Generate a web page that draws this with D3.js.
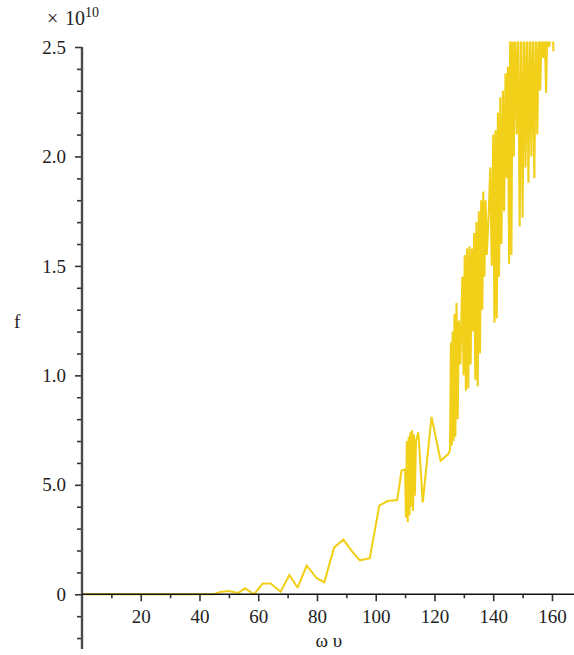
<!DOCTYPE html>
<html>
<head>
<meta charset="utf-8">
<script src="https://cdn.jsdelivr.net/npm/d3@7"></script>
<style>
  html, body { margin: 0; padding: 0; background: #fff; }
  svg { display: block; }
</style>
</head>
<body>
<svg id="chart" width="574" height="655"></svg>
<script>
// ---- data (f in units of 1e10) ----
const omega = [
  0, 10, 20, 30, 40, 45, 47, 49.8, 53.2, 55.5, 58.6, 61.5, 64.2, 67.6, 70.6, 73.4, 76.5, 79.9, 82.5,
  85.8, 89, 92.1, 94.6, 98, 101.2, 104, 107.3, 108.8, 110,
  110.3, 110.6, 110.9, 111.2, 111.5, 111.8, 112.1, 112.4, 112.7, 113.0, 113.3, 113.7,
  114.5, 116, 119, 122.1, 124.7,
  125.3, 125.6, 125.9, 126.2, 126.5, 126.8, 127.1, 127.5, 127.9, 128.3,
  128.8, 129.5, 129.9, 130.3, 130.7, 131.1, 131.5, 131.9, 132.3, 132.7, 133.1,
  133.5, 133.9, 134.3, 134.7, 135.1, 135.5, 135.9, 136.3, 136.6, 137.0, 137.4, 137.8,
  138.5, 139.0, 139.5, 140.0, 140.4, 140.8, 141.2, 141.6, 142.0, 142.4, 142.8,
  143.3, 143.7, 144.2, 144.6, 145.0, 145.4, 145.8, 146.2, 146.6, 147.0, 147.5, 148.0,
  148.5, 149.0, 149.5, 150.0, 150.5, 151.0, 151.5, 152.0, 152.5, 153.0, 153.5, 154.0,
  154.5, 155.0, 155.5, 156.0, 156.5, 157.0, 157.5, 158.0, 158.4, 159.0, 160.3, 160.5
];
const fValues = [
  0, 0, 0, 0, 0, 0, 0.01, 0.015, 0.006, 0.027, 0, 0.049, 0.049, 0.012, 0.088, 0.03, 0.131, 0.073, 0.055,
  0.213, 0.25, 0.193, 0.155, 0.165, 0.405, 0.426, 0.43, 0.565, 0.57,
  0.35, 0.70, 0.33, 0.72, 0.36, 0.74, 0.40, 0.75, 0.38, 0.73, 0.45, 0.70,
  0.74, 0.42, 0.81, 0.61, 0.64,
  0.66, 1.15, 0.68, 1.20, 0.70, 1.28, 0.72, 1.33, 0.80, 1.25,
  1.05, 1.45, 1.0, 1.55, 0.93, 1.58, 0.94, 1.59, 1.05, 1.58, 1.2,
  1.65, 0.98, 1.70, 0.95, 1.75, 1.10, 1.80, 1.30, 1.84, 1.45, 1.80, 1.55,
  1.75, 1.95, 1.5, 2.10, 1.24, 2.12, 1.26, 2.20, 1.45, 2.27, 1.60,
  2.30, 1.75, 2.38, 1.9, 2.41, 1.51, 2.60, 1.55, 2.60, 2.0, 2.60, 2.1,
  2.60, 1.68, 2.60, 1.72, 2.60, 1.95, 2.60, 1.88, 2.60, 2.0, 2.60, 1.9,
  2.60, 2.1, 2.60, 2.3, 2.60, 2.45, 2.60, 2.29, 2.60, 2.5, 2.60, 2.48
];
const yTickValues = [0, 0.5, 1.0, 1.5, 2.0, 2.5];
const yTickLabels = ["0", "5.0", "1.0", "1.5", "2.0", "2.5"];
const xTickValues = [20, 40, 60, 80, 100, 120, 140, 160];
const xTickLabels = ["20", "40", "60", "80", "100", "120", "140", "160"];

const FONT = "'Liberation Serif', 'Times New Roman', Times, serif";

// ---- scales ----
const svg = d3.select("#chart");
const x = d3.scaleLinear().domain([0, 167.5]).range([82, 574]);
const y = d3.scaleLinear().domain([-0.25, 2.5]).range([649, 47]);

const pts = omega.map((w, i) => [w, fValues[i]]);

svg.append("defs").append("clipPath").attr("id", "clip")
  .append("rect")
  .attr("x", x(0)).attr("y", y(2.525))
  .attr("width", x(167.5) - x(0)).attr("height", y(-0.25) - y(2.525));

const line = d3.line().x(d => x(d[0])).y(d => y(d[1]));

svg.append("path")
  .datum(pts)
  .attr("clip-path", "url(#clip)")
  .attr("d", line)
  .attr("fill", "none")
  .attr("stroke", "#f2d01a")
  .attr("stroke-width", 2.1)
  .attr("stroke-linejoin", "miter")
  .attr("stroke-miterlimit", 2);

// ---- axes ----
const yMinor = d3.range(-2, 26).map(d => d / 10).filter(v => !yTickValues.some(t => Math.abs(t - v) < 1e-9));
const xMinor = d3.range(10, 170, 20);

const yAxisMinor = svg.append("g").attr("transform", `translate(${x(0)},0)`)
  .call(d3.axisLeft(y).tickValues(yMinor).tickSize(5).tickSizeOuter(0).tickFormat(""));
yAxisMinor.select(".domain").remove();
const yAxisMajor = svg.append("g").attr("transform", `translate(${x(0)},0)`)
  .call(d3.axisLeft(y).tickValues(yTickValues).tickSize(7).tickSizeOuter(0)
    .tickFormat((d, i) => yTickLabels[i]).tickPadding(9));
yAxisMajor.select(".domain").remove();
svg.append("line")
  .attr("x1", x(0)).attr("x2", x(0))
  .attr("y1", y(2.5)).attr("y2", y(-0.25))
  .attr("stroke", "#4a4a4a").attr("stroke-width", 2.4);

const xAxisMinor = svg.append("g").attr("transform", `translate(0,${y(0)})`)
  .call(d3.axisBottom(x).tickValues(xMinor).tickSize(4).tickSizeOuter(0).tickFormat(""));
xAxisMinor.select(".domain").remove();
const xAxisMajor = svg.append("g").attr("transform", `translate(0,${y(0)})`)
  .call(d3.axisBottom(x).tickValues(xTickValues).tickSize(7).tickSizeOuter(0)
    .tickFormat((d, i) => xTickLabels[i]).tickPadding(8));
xAxisMajor.select(".domain").remove();
svg.append("line")
  .attr("x1", x(0)).attr("x2", x(167.5))
  .attr("y1", y(0)).attr("y2", y(0))
  .attr("stroke", "#111").attr("stroke-width", 1.6);
svg.selectAll("g.tick line").attr("stroke", "#333").attr("stroke-width", 1.6);

svg.selectAll("g").attr("font-family", FONT).attr("font-size", 19);
svg.selectAll("g.tick text").attr("fill", "#222");

// ---- labels ----
const mult = svg.append("text").attr("y", 25)
  .attr("font-family", FONT).attr("font-size", 20).attr("fill", "#222");
mult.append("tspan").attr("x", 47).text("×");
mult.append("tspan").attr("x", 65).text("10");
mult.append("tspan").attr("dy", -8).attr("font-size", 14).text("10");

svg.append("text").attr("x", 14).attr("y", 328)
  .attr("font-family", FONT).attr("font-size", 19).attr("fill", "#222").text("f");
svg.append("text").attr("x", x(84)).attr("y", 647).attr("text-anchor", "middle")
  .attr("font-family", FONT).attr("font-size", 19).attr("fill", "#222").text("ω υ");
</script>
</body>
</html>
